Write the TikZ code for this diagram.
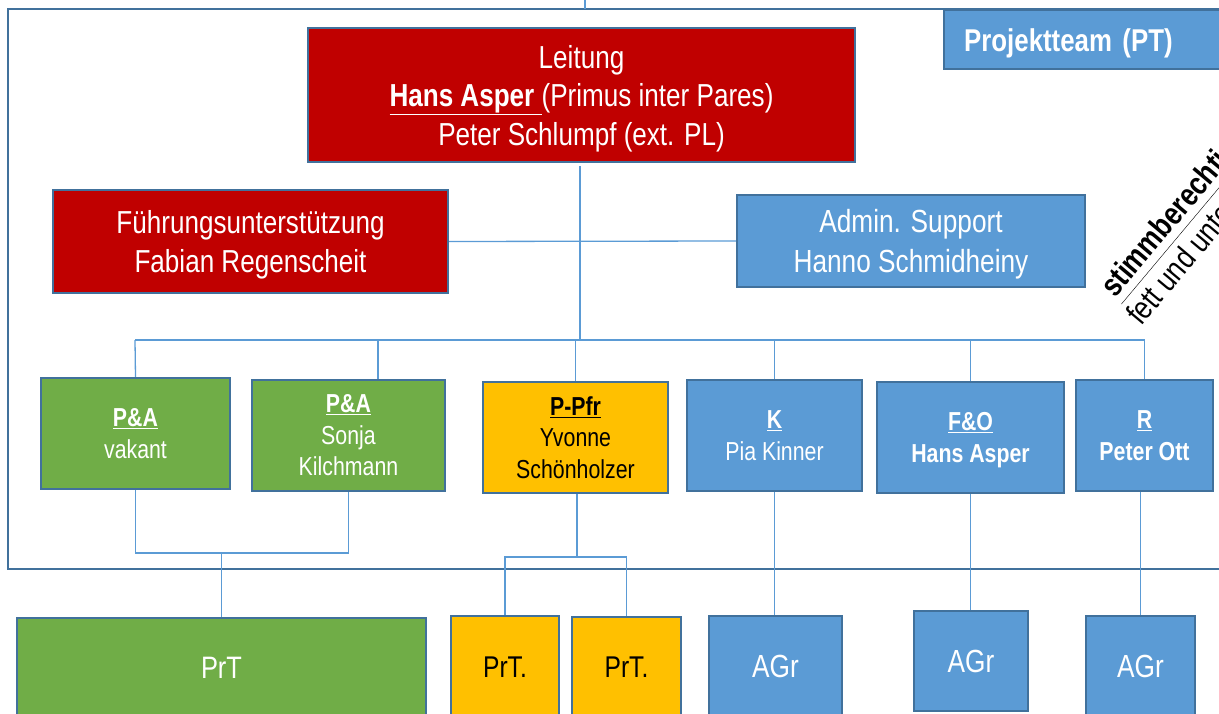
\documentclass[tikz,border=0pt]{standalone}
\usepackage{fontspec}
\setmainfont[FakeStretch=0.82]{Liberation Sans}
\definecolor{bordc}{HTML}{41719C}
\definecolor{connc}{HTML}{5B9BD5}
\definecolor{redc}{HTML}{C00000}
\definecolor{bluec}{HTML}{5B9BD5}
\definecolor{greenc}{HTML}{70AD47}
\definecolor{yellowc}{HTML}{FFC000}
\newcommand{\myfs}[2]{\fontsize{#1}{#2}\selectfont}
\begin{document}
\begin{tikzpicture}[x=1pt,y=-1pt,
  box/.style={draw=bordc, line width=2.3pt, inner sep=0pt, align=center, text=white, text depth=0pt},
  redbox/.style={box, fill=redc},
  bluebox/.style={box, fill=bluec},
  greenbox/.style={box, fill=greenc},
  yelbox/.style={box, fill=yellowc, text=black},
  big/.style={font=\myfs{31.8}{38.5}},
  mid/.style={font=\myfs{32}{40}},
  small/.style={font=\myfs{26}{31.5}},
  conn/.style={draw=connc, line width=1.3pt},
  frame/.style={draw=bordc, line width=2.3pt}]
\useasboundingbox (0,0) rectangle (1219,714);
\clip (0,0) rectangle (1219,714);

% outer frame (Projektteam)
\draw[frame] (8,9) rectangle (1240,569);
\coordinate (top) at (585,0);
\coordinate (topf) at (585,9);
\draw[conn] (top) -- (topf);

% nodes
\node[redbox, big, minimum width=547, minimum height=134] (lead) at (581.5,95)
  {Leitung\\\underline{\hbox{\bfseries Hans Asper\ }}(Primus inter Pares)\\Peter Schlumpf (ext. PL)};
\node[redbox, big, minimum width=395, minimum height=103] (fu) at (250.5,241.5)
  {Führungsunterstützung\\Fabian Regenscheit};
\node[bluebox, mid, minimum width=348, minimum height=92] (adm) at (911,241)
  {Admin. Support\\Hanno Schmidheiny};

\node[greenbox, small, minimum width=189, minimum height=111] (pa1) at (135.5,433.5)
  {\underline{\textbf{P\&A}}\\vakant};
\node[greenbox, small, minimum width=193, minimum height=111] (pa2) at (348.5,435.5)
  {\underline{\textbf{P\&A}}\\Sonja\\Kilchmann};
\node[yelbox, small, minimum width=185, minimum height=111] (ppfr) at (575.5,437.5)
  {\underline{\textbf{P-Pfr}}\\Yvonne\\Schönholzer};
\node[bluebox, small, minimum width=175, minimum height=111] (k) at (774.5,435.5)
  {\underline{\textbf{K}}\\Pia Kinner};
\node[bluebox, small, minimum width=187, minimum height=111] (fo) at (970.5,437.5)
  {\underline{\textbf{F\&O}}\\\textbf{Hans Asper}};
\node[bluebox, small, minimum width=137, minimum height=111] (r) at (1144.5,435.5)
  {\underline{\textbf{R}}\\\textbf{Peter Ott}};

\node[greenbox, font=\myfs{31}{36}, minimum width=409, minimum height=100] (prt1) at (221.5,668) {PrT};
\node[yelbox, font=\myfs{30}{36}, minimum width=108, minimum height=102] (prt2) at (505,667) {PrT.};
\node[yelbox, font=\myfs{30}{36}, minimum width=109, minimum height=101] (prt3) at (626.5,667.5) {PrT.};
\node[bluebox, font=\myfs{32}{38}, minimum width=133, minimum height=100] (agr1) at (775.5,666) {AGr};
\node[bluebox, font=\myfs{32}{38}, minimum width=114, minimum height=100] (agr2) at (971,661) {AGr};
\node[bluebox, font=\myfs{32}{38}, minimum width=109, minimum height=100] (agr3) at (1140.5,666) {AGr};

\node[bluebox, font=\myfs{31.5}{36}\bfseries, anchor=north west, minimum width=297, minimum height=59,
  text width=257, align=left, inner xsep=20pt] (pt) at (943,9) {Projektteam (PT)};

% rotated note
\node[rotate=50, anchor=base west, inner sep=0pt, font=\myfs{32}{36}] (st1) at (1115,299)
  {\underline{\hbox{\bfseries stimmberechtigt}}};
\node[rotate=50, anchor=base west, inner sep=0pt, font=\myfs{32}{36}] (st2) at (1141,327)
  {fett und unterstrichen};

% connectors
\coordinate (busL) at (135,340);
\coordinate (busR) at (1144.5,340);
\draw[conn] ([yshift=-3pt]lead.south -| 580,0) -- (580,340);
\draw[conn] (fu.east) -- (adm.west);
\draw[conn] (busL) -- (busR);
\draw[conn] (busL) -- (pa1.north);
\draw[conn] ([xshift=29.5pt]pa2.north |- busL) -- ([xshift=29.5pt]pa2.north);
\draw[conn] (ppfr.north |- busL) -- (ppfr.north);
\draw[conn] (k.north |- busL) -- (k.north);
\draw[conn] (fo.north |- busL) -- (fo.north);
\draw[conn] (busR) -- (r.north);

\coordinate (j1) at (221.5,553);
\draw[conn] (pa1.south) |- (j1) -| (pa2.south);
\draw[conn] (j1) -- (prt1.north);
\coordinate (j2) at (577,557);
\draw[conn] (ppfr.south -| j2) -- (j2);
\draw[conn] (prt2.north) |- (j2) -| (prt3.north);
\draw[conn] (k.south) -- (k.south |- agr1.north);
\draw[conn] (fo.south) -- (fo.south |- agr2.north);
\draw[conn] (agr3.north |- r.south) -- (agr3.north);
\end{tikzpicture}
\end{document}
